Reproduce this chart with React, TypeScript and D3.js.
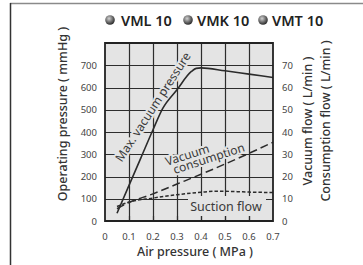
import React from "react";
import * as d3 from "d3";

const xTicks = [0, 0.1, 0.2, 0.3, 0.4, 0.5, 0.6, 0.7];
const leftTicks = [0, 100, 200, 300, 400, 500, 600, 700];
const rightTicks = [0, 10, 20, 30, 40, 50, 60, 70];
const gridY = [100, 200, 300, 400, 500, 600, 700];
const legendItems = ["VML 10", "VMK 10", "VMT 10"];

// Max. vacuum pressure (mmHg) vs air pressure (MPa)
const maxVacX = [0.05, 0.1, 0.15, 0.2, 0.24, 0.3, 0.36, 0.38, 0.4, 0.5, 0.6, 0.7];
const maxVacY = [35, 160, 285, 410, 505, 590, 672, 686, 688, 675, 660, 645];
// Vacuum consumption (L/min)
const consX = [0.05, 0.1, 0.2, 0.3, 0.4, 0.5, 0.6, 0.7];
const consY = [5.5, 8.3, 12.2, 16.6, 21, 25.6, 30.4, 35.4];
// Suction flow (L/min)
const suctX = [0.05, 0.1, 0.2, 0.3, 0.4, 0.47, 0.55, 0.6, 0.7];
const suctY = [6.5, 8.5, 10.3, 11.8, 12.9, 13.4, 13.2, 13, 12.8];

const BG = "rgb(228,228,228)";
const INK = "rgb(43,43,43)";
const GRID = "rgb(45,45,45)";
const FONT = "'Noto Sans', 'Open Sans', sans-serif";

export default function App() {
  const W = 363, H = 265;
  const x = d3.scaleLinear().domain([0, 0.7]).range([105, 273]);
  const yL = d3.scaleLinear().domain([0, 800]).range([221, 43]);
  const yR = d3.scaleLinear().domain([0, 80]).range([221, 43]);
  const px = (v: number) => Math.round(v) + 0.5;

  const lineL = d3.line<[number, number]>().x(d => x(d[0])).y(d => yL(d[1])).curve(d3.curveMonotoneX);
  const lineR = d3.line<[number, number]>().x(d => x(d[0])).y(d => yR(d[1])).curve(d3.curveMonotoneX);

  const maxVac = maxVacX.map((v, i) => [v, maxVacY[i]] as [number, number]);
  const cons = consX.map((v, i) => [v, consY[i]] as [number, number]);
  const suct = suctX.map((v, i) => [v, suctY[i]] as [number, number]);

  const x0 = x(0), x1 = x(0.7), y0 = yL(0), y1 = yL(800);
  const legendCx = [110, 188, 263];
  const legendTx = [121, 197, 272];

  const gridPath =
    xTicks.slice(1, -1).map(v => `M${px(x(v))},${y1}V${y0}`).join("") +
    gridY.map(v => `M${x0},${px(yL(v))}H${x1}`).join("");
  const tickPath = xTicks.slice(1, -1).map(v => `M${px(x(v))},${y0}V${y0 - 5}`).join("");
  const plotRect = `M${x0},${y1}H${x1}V${y0}H${x0}Z`;

  return (
    <svg width={W} height={H} style={{ position: "absolute", left: 0, top: 0, background: "#fff" }}>
      <defs>
        <radialGradient id="ball" cx="40%" cy="35%" r="65%">
          <stop offset="0%" stopColor="rgb(210,210,210)" />
          <stop offset="60%" stopColor="rgb(106,106,106)" />
          <stop offset="100%" stopColor="rgb(42,42,42)" />
        </radialGradient>
      </defs>
      {/* frame */}
      <path d="M10,3.5H363" stroke="rgb(138,138,138)" strokeWidth={1.5} />
      <path d="M10.5,3V265" stroke="rgb(51,51,51)" strokeWidth={1.5} />

      {/* legend */}
      {legendItems.map((t, i) => (
        <g key={t}>
          <circle cx={legendCx[i]} cy={20} r={4.8} fill="url(#ball)" />
          <text x={legendTx[i]} y={25.5} fontFamily={FONT} fontSize={14.5} fontWeight={600} fill="rgb(34,34,34)">{t}</text>
        </g>
      ))}

      {/* plot bg */}
      <path d={plotRect} fill={BG} stroke="none" />
      {/* grid */}
      <path d={gridPath} fill="none" stroke={GRID} strokeWidth={1.2} />

      {/* annotation text with halo */}
      <g fontFamily={FONT} fill="rgb(58,58,58)" stroke={BG} strokeWidth={4} strokeLinejoin="round" style={{ paintOrder: "stroke" }}>
        <text transform="translate(153,107) rotate(-57)" textAnchor="middle" dy="0.35em" fontSize={12}>Max. vacuum pressure</text>
        <g transform="translate(167,166) rotate(-18)" fontSize={12}>
          <text x={0} y={0}>Vacuum</text>
          <text x={5} y={10}>consumption</text>
        </g>
      </g>
      <path d={`M188,196H266V216H188Z`} fill={BG} stroke="none" />
      <text x={226} y={211} textAnchor="middle" fontFamily={FONT} fontSize={12.5} fill="rgb(58,58,58)">Suction flow</text>
      <path d={tickPath} fill="none" stroke={GRID} strokeWidth={1.2} />

      {/* curves */}
      <path d={lineL(maxVac) || ""} fill="none" stroke={INK} strokeWidth={1.6} />
      <path d={lineR(cons) || ""} fill="none" stroke={INK} strokeWidth={1.5} strokeDasharray="8,4" />
      <path d={lineR(suct) || ""} fill="none" stroke={INK} strokeWidth={1.5} strokeDasharray="3.5,2" />

      {/* border */}
      <path d={plotRect} fill="none" stroke="rgb(34,34,34)" strokeWidth={1.8} />

      {/* tick labels */}
      <g fontFamily={FONT} fontSize={9.5} fill="rgb(68,68,68)">
        {leftTicks.map(v => (
          <text key={"l" + v} x={97} y={yL(v) + 3.5} textAnchor="end">{v}</text>
        ))}
        {rightTicks.map(v => (
          <text key={"r" + v} x={282} y={yR(v) + 3.5} textAnchor="start">{v}</text>
        ))}
        {xTicks.map(v => (
          <text key={"x" + v} x={x(v)} y={240} textAnchor="middle">{String(v)}</text>
        ))}
      </g>

      {/* axis titles */}
      <g fontFamily={FONT} fontSize={12.5} fill="rgb(51,51,51)" fontWeight={500}>
        <text x={195} y={256} textAnchor="middle">Air pressure ( MPa )</text>
        <text transform="translate(67,114) rotate(-90)" textAnchor="middle">Operating pressure ( mmHg )</text>
        <text transform="translate(312,121) rotate(-90)" textAnchor="middle">Vacuum flow ( L/min )</text>
        <text transform="translate(330,121) rotate(-90)" textAnchor="middle">Consumption flow ( L/min )</text>
      </g>
    </svg>
  );
}
